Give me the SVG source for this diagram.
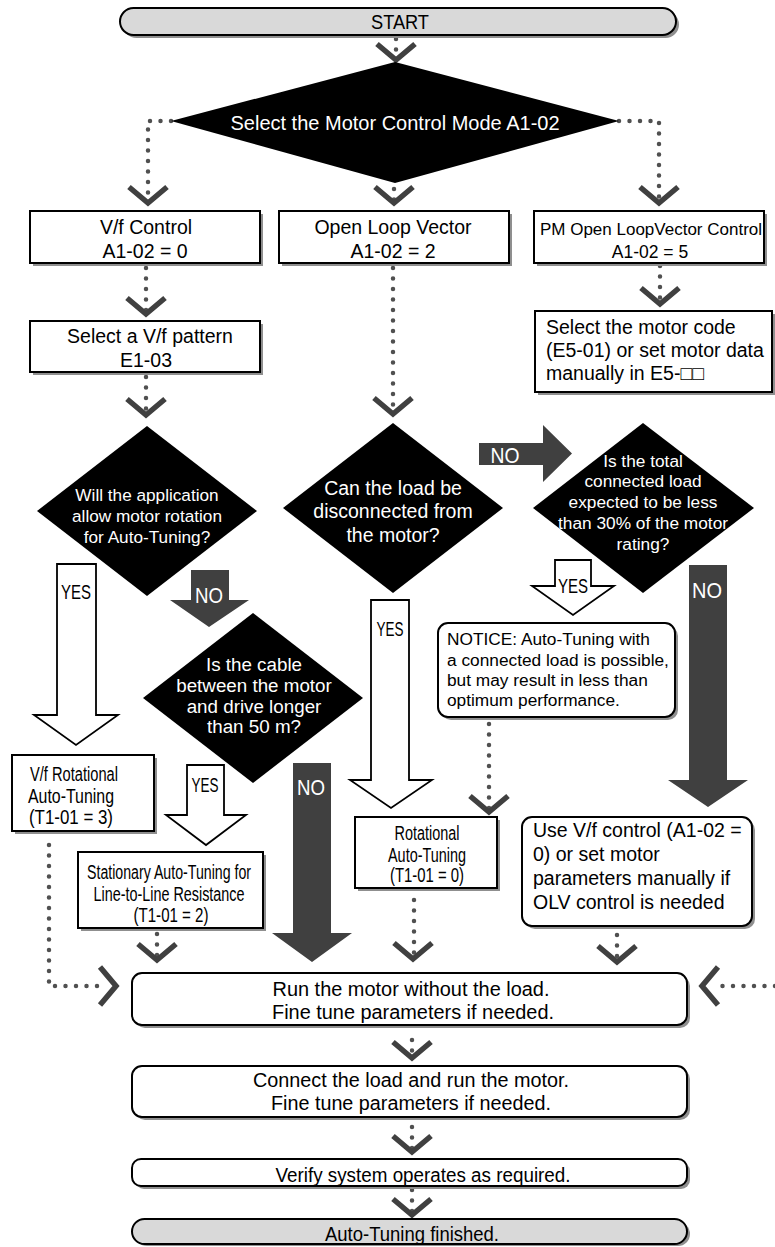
<svg xmlns="http://www.w3.org/2000/svg" xmlns:xlink="http://www.w3.org/1999/xlink" width="775" height="1247" viewBox="0 0 775 1247">
<style>
.t{font-family:"Liberation Sans",Arial,sans-serif;fill:#000}
.n{font-family:"Liberation Sans Narrow","Liberation Sans",Arial,sans-serif;fill:#000}
.w{fill:#fff}
.c{text-anchor:middle}
.box{fill:#fff;stroke:#000;stroke-width:2}
.pill{fill:#d9d9d9;stroke:#000;stroke-width:2}
.sh{fill:#8f8f8f}
.dia{fill:#000}
.dot{fill:none;stroke:#505050;stroke-width:4.5;stroke-linecap:round;stroke-dasharray:0 10.5}
.ya{fill:#fff;stroke:#000;stroke-width:1.8}
.na{fill:#404040}
</style>
<defs>
<path id="chev" d="M-19,-8 L0,8 L19,-8" fill="none" stroke="#404040" stroke-width="5.5"/>
</defs>

<g id="connectors">
  <path class="dot" d="M396,39 V60"/>
  <path class="dot" d="M171,121 H148 V200"/>
  <path class="dot" d="M394,189 V200"/>
  <path class="dot" d="M619,121 H659 V200"/>
  <path class="dot" d="M146,268 V312"/>
  <path class="dot" d="M660,266 V303"/>
  <path class="dot" d="M146,377 V414"/>
  <path class="dot" d="M393,268 V412"/>
  <path class="dot" d="M49,845 V986 H105"/>
  <path class="dot" d="M157,934 V958"/>
  <path class="dot" d="M414,900 V958"/>
  <path class="dot" d="M489,724 V810"/>
  <path class="dot" d="M617,935 V960"/>
  <path class="dot" d="M775,986 H714"/>
  <path class="dot" d="M773,351 H780"/>
  <path class="dot" d="M412,1040 V1056"/>
  <path class="dot" d="M412,1127 V1150"/>
  <path class="dot" d="M412,1190 V1212"/>

  <use href="#chev" x="396" y="52"/>
  <use href="#chev" x="148" y="195"/>
  <use href="#chev" x="394" y="195"/>
  <use href="#chev" x="659" y="195"/>
  <use href="#chev" x="146" y="306"/>
  <use href="#chev" x="660" y="296"/>
  <use href="#chev" x="146" y="407"/>
  <use href="#chev" x="393" y="406"/>
  <use href="#chev" x="157" y="952"/>
  <use href="#chev" x="413" y="951"/>
  <use href="#chev" x="489" y="804"/>
  <use href="#chev" x="617" y="954"/>
  <use href="#chev" x="412" y="1050"/>
  <use href="#chev" x="412" y="1144"/>
  <use href="#chev" x="412" y="1207"/>
  <use href="#chev" transform="translate(108,986) rotate(-90)"/>
  <use href="#chev" transform="translate(710,986) rotate(90)"/>

  <polygon class="ya" points="57,564 96,564 96,715 118,715 76,745 34,715 57,715"/>
  <text class="n c" x="76" y="599" font-size="21" textLength="30" lengthAdjust="spacingAndGlyphs">YES</text>

  <polygon class="na" points="191,570 229,570 229,600 249,600 209,627 170,600 191,600"/>
  <text class="n c w" x="209" y="603" font-size="22" textLength="28" lengthAdjust="spacingAndGlyphs">NO</text>

  <polygon class="na" points="479,443 543,443 543,425 572,453.5 543,482 543,465 479,465"/>
  <text class="n c w" x="505" y="463" font-size="22" textLength="29" lengthAdjust="spacingAndGlyphs">NO</text>

  <polygon class="ya" points="187,765 224,765 224,815 246,815 206,845 166,815 187,815"/>
  <text class="n c" x="205" y="792" font-size="21" textLength="27" lengthAdjust="spacingAndGlyphs">YES</text>

  <polygon class="na" points="293,763 331,763 331,933 352,933 312,962 272,933 293,933"/>
  <text class="n c w" x="311" y="795" font-size="22" textLength="28" lengthAdjust="spacingAndGlyphs">NO</text>

  <polygon class="ya" points="371,600 409,600 409,780 432,780 391,808 350,780 371,780"/>
  <text class="n c" x="390" y="636" font-size="21" textLength="27" lengthAdjust="spacingAndGlyphs">YES</text>

  <polygon class="ya" points="555,560 591,560 591,586 614,586 573,615 532,586 555,586"/>
  <text class="n c" x="573" y="593" font-size="21" textLength="30" lengthAdjust="spacingAndGlyphs">YES</text>

  <polygon class="na" points="689,565 727,565 727,780 748,780 708,807 668,780 689,780"/>
  <text class="n c w" x="707" y="598" font-size="22" textLength="30" lengthAdjust="spacingAndGlyphs">NO</text>
</g>

<g id="start">
  <rect class="sh" x="123" y="11" width="556" height="27" rx="13.5"/>
  <rect class="pill" x="120" y="8" width="556" height="27" rx="13.5"/>
  <text class="n c" x="400" y="29" font-size="20" textLength="58" lengthAdjust="spacingAndGlyphs">START</text>
</g>

<g id="select-mode">
  <polygon class="dia" points="395,62 619,121 395,183 171,121"/>
  <text class="t c w" x="395" y="130" font-size="20">Select the Motor Control Mode A1-02</text>
</g>

<g id="vf-control">
  <rect class="sh" x="33" y="214" width="230" height="52"/>
  <rect class="box" x="30" y="211" width="230" height="52"/>
  <text class="t c" x="146" y="234" font-size="19.5">V/f Control</text>
  <text class="t c" x="145" y="258" font-size="19.5">A1-02 = 0</text>
</g>

<g id="olv-control">
  <rect class="sh" x="282" y="214" width="230" height="52"/>
  <rect class="box" x="279" y="211" width="230" height="52"/>
  <text class="t c" x="393" y="234" font-size="19.5">Open Loop Vector</text>
  <text class="t c" x="393" y="258" font-size="19.5">A1-02 = 2</text>
</g>

<g id="pm-olv-control">
  <rect class="sh" x="537" y="214" width="230" height="52"/>
  <rect class="box" x="534" y="211" width="230" height="52"/>
  <text class="t c" x="651" y="235" font-size="17">PM Open LoopVector Control</text>
  <text class="t c" x="650" y="258" font-size="17.5">A1-02 = 5</text>
</g>

<g id="vf-pattern">
  <rect class="sh" x="33" y="324" width="230" height="51"/>
  <rect class="box" x="30" y="321" width="230" height="51"/>
  <text class="t c" x="150" y="343" font-size="19.5">Select a V/f pattern</text>
  <text class="t c" x="146" y="367" font-size="19.5">E1-03</text>
</g>

<g id="motor-code">
  <rect class="sh" x="538" y="314" width="237" height="81"/>
  <rect class="box" x="535" y="311" width="237" height="81"/>
  <text class="t" x="546" y="334" font-size="19.5">Select the motor code</text>
  <text class="t" x="546" y="357" font-size="19.5">(E5-01) or set motor data</text>
  <text class="t" x="546" y="380" font-size="19.5">manually in E5-□□</text>
</g>

<g id="allow-rotation">
  <polygon class="dia" points="147,426 257,511 147,596 37,511"/>
  <text class="t c w" x="147" y="501" font-size="17.2">Will the application</text>
  <text class="t c w" x="147" y="522" font-size="17.2">allow motor rotation</text>
  <text class="t c w" x="147" y="543" font-size="17.2">for Auto-Tuning?</text>
</g>

<g id="disconnect-load">
  <polygon class="dia" points="393,423 503,508 393,593 283,508"/>
  <text class="t c w" x="393" y="495" font-size="19.5">Can the load be</text>
  <text class="t c w" x="393" y="518" font-size="19.5">disconnected from</text>
  <text class="t c w" x="393" y="542" font-size="19.5">the motor?</text>
</g>

<g id="total-load">
  <polygon class="dia" points="643,423 754,508 643,593 533,508"/>
  <text class="t c w" x="643" y="467" font-size="17.3">Is the total</text>
  <text class="t c w" x="643" y="487" font-size="17.3">connected load</text>
  <text class="t c w" x="643" y="508" font-size="17.3">expected to be less</text>
  <text class="t c w" x="643" y="529" font-size="17.3">than 30% of the motor</text>
  <text class="t c w" x="643" y="550" font-size="17.3">rating?</text>
</g>

<g id="cable-length">
  <polygon class="dia" points="253,613 363,698 253,783 143,698"/>
  <text class="t c w" x="254" y="671" font-size="18.8">Is the cable</text>
  <text class="t c w" x="254" y="692" font-size="18.8">between the motor</text>
  <text class="t c w" x="254" y="713" font-size="18.8">and drive longer</text>
  <text class="t c w" x="254" y="733" font-size="18.8">than 50 m?</text>
</g>

<g id="notice">
  <rect class="sh" x="441" y="626" width="237" height="94" rx="10"/>
  <rect class="box" x="438" y="623" width="237" height="94" rx="10"/>
  <text class="t" x="447" y="645" font-size="17.3">NOTICE: Auto-Tuning with</text>
  <text class="t" x="447" y="666" font-size="17.3">a connected load is possible,</text>
  <text class="t" x="447" y="686" font-size="17.3">but may result in less than</text>
  <text class="t" x="447" y="706" font-size="17.3">optimum performance.</text>
</g>

<g id="vf-rotational">
  <rect class="sh" x="15" y="758" width="142" height="76"/>
  <rect class="box" x="12" y="755" width="142" height="76"/>
  <text class="n c" x="74" y="781" font-size="20" textLength="88" lengthAdjust="spacingAndGlyphs">V/f Rotational</text>
  <text class="n c" x="71" y="803" font-size="20" textLength="86" lengthAdjust="spacingAndGlyphs">Auto-Tuning</text>
  <text class="n c" x="71" y="824" font-size="20" textLength="84" lengthAdjust="spacingAndGlyphs">(T1-01 = 3)</text>
</g>

<g id="stationary">
  <rect class="sh" x="81" y="855" width="185" height="76"/>
  <rect class="box" x="78" y="852" width="185" height="76"/>
  <text class="n c" x="169" y="879" font-size="20" textLength="164" lengthAdjust="spacingAndGlyphs">Stationary Auto-Tuning for</text>
  <text class="n c" x="169" y="901" font-size="20" textLength="151" lengthAdjust="spacingAndGlyphs">Line-to-Line Resistance</text>
  <text class="n c" x="171" y="922" font-size="20" textLength="75" lengthAdjust="spacingAndGlyphs">(T1-01 = 2)</text>
</g>

<g id="rotational">
  <rect class="sh" x="358" y="820" width="142" height="71"/>
  <rect class="box" x="355" y="817" width="142" height="71"/>
  <text class="n c" x="427" y="840" font-size="20" textLength="65" lengthAdjust="spacingAndGlyphs">Rotational</text>
  <text class="n c" x="427" y="862" font-size="20" textLength="78" lengthAdjust="spacingAndGlyphs">Auto-Tuning</text>
  <text class="n c" x="427" y="882" font-size="20" textLength="74" lengthAdjust="spacingAndGlyphs">(T1-01 = 0)</text>
</g>

<g id="use-vf">
  <rect class="sh" x="525" y="820" width="230" height="109" rx="10"/>
  <rect class="box" x="522" y="817" width="230" height="109" rx="10"/>
  <text class="t" x="533" y="837" font-size="19.5">Use V/f control (A1-02 =</text>
  <text class="t" x="533" y="861" font-size="19.5">0) or set motor</text>
  <text class="t" x="533" y="885" font-size="19.5">parameters manually if</text>
  <text class="t" x="533" y="909" font-size="19.5">OLV control is needed</text>
</g>

<g id="run-no-load">
  <rect class="sh" x="135" y="976" width="555" height="52" rx="10"/>
  <rect class="box" x="132" y="973" width="555" height="52" rx="10"/>
  <text class="n c" x="411" y="996" font-size="20" textLength="277" lengthAdjust="spacingAndGlyphs">Run the motor without the load.</text>
  <text class="n c" x="413" y="1019" font-size="20" textLength="282" lengthAdjust="spacingAndGlyphs">Fine tune parameters if needed.</text>
</g>

<g id="run-with-load">
  <rect class="sh" x="135" y="1069" width="555" height="51" rx="10"/>
  <rect class="box" x="132" y="1066" width="555" height="51" rx="10"/>
  <text class="n c" x="411" y="1087" font-size="20" textLength="316" lengthAdjust="spacingAndGlyphs">Connect the load and run the motor.</text>
  <text class="n c" x="411" y="1110" font-size="20" textLength="280" lengthAdjust="spacingAndGlyphs">Fine tune parameters if needed.</text>
</g>

<g id="verify">
  <rect class="sh" x="135" y="1162" width="555" height="27" rx="9"/>
  <rect class="box" x="132" y="1159" width="555" height="27" rx="9"/>
  <text class="n c" x="423" y="1182" font-size="20" textLength="295" lengthAdjust="spacingAndGlyphs">Verify system operates as required.</text>
</g>

<g id="finished">
  <rect class="sh" x="135" y="1222" width="555" height="24" rx="12"/>
  <rect class="pill" x="132" y="1219" width="555" height="25" rx="12.5"/>
  <text class="n c" x="412" y="1241" font-size="20" textLength="174" lengthAdjust="spacingAndGlyphs">Auto-Tuning finished.</text>
</g>
</svg>
